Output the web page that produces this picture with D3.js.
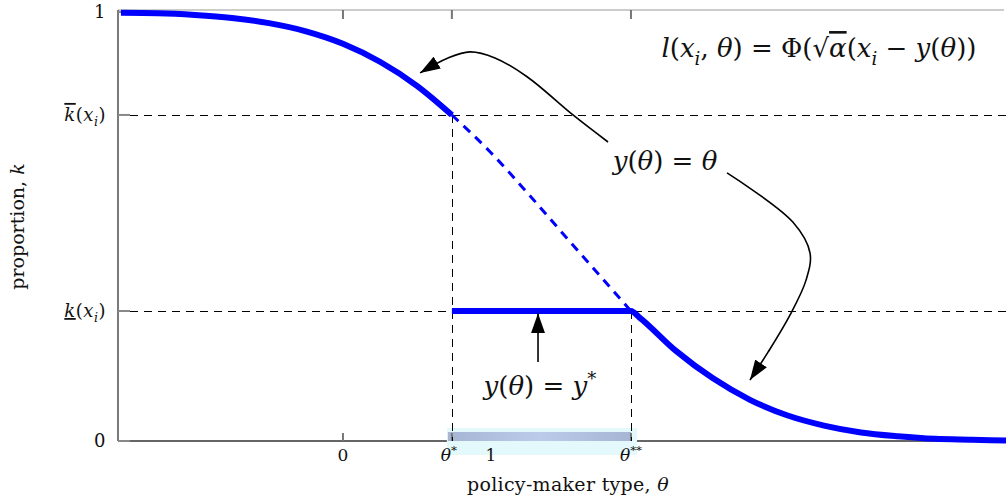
<!DOCTYPE html>
<html>
<head>
<meta charset="utf-8">
<script src="https://cdn.jsdelivr.net/npm/d3@7"></script>
<style>
    body { margin: 0; background: #fff; }
    text { font-family: "DejaVu Serif", "Liberation Serif", serif; fill: #111; }
</style>
</head>
<body>
<div id="chart"></div>
<script>
// thresholds
var thetaStar = 0.736,
    thetaStar2 = 1.946,
    kHigh = 0.760,
    kLow = 0.303;

// l(x_i, theta) with y(theta) = theta
var curveTheta = [-1.5, -1.25, -1.0, -0.75, -0.5, -0.25, 0, 0.25, 0.5, 0.736, 1.0, 1.25, 1.5, 1.75, 1.946,
    2.0, 2.25, 2.5, 2.75, 3.0, 3.25, 3.5, 3.75, 4.0, 4.25, 4.5];
var curveK = [0.998, 0.997, 0.993, 0.986, 0.974, 0.955, 0.926, 0.884, 0.828, 0.760, 0.672, 0.577, 0.478, 0.380, 0.303,
    0.289, 0.210, 0.146, 0.096, 0.060, 0.036, 0.020, 0.011, 0.005, 0.003, 0.001];

// x ticks
var xTickValues = [0, thetaStar, 1, thetaStar2];
var xTickLabels = [
    [{t: "0"}],
    [{t: "θ", i: true}, {t: "*", sup: true}],
    [{t: "1"}],
    [{t: "θ", i: true}, {t: "**", sup: true}]
];
var xTopTicks = [0, thetaStar, thetaStar2];

// y ticks
var yTickValues = [0, kLow, kHigh, 1];
var yTickLabels = [
    [{t: "0"}],
    [{t: "k", i: true, deco: "underline"}, {t: "("}, {t: "x", i: true}, {t: "i", i: true, sub: true}, {t: ")"}],
    [{t: "k", i: true, deco: "overline"}, {t: "("}, {t: "x", i: true}, {t: "i", i: true, sub: true}, {t: ")"}],
    [{t: "1"}]
];

// annotation arrows (theta, k)
var arrowTop = [[1.791, 0.697], [1.554, 0.760], [1.244, 0.849], [1.027, 0.893], [0.858, 0.907], [0.710, 0.893], [0.521, 0.858]];
var arrowBottom = [[2.595, 0.625], [3.041, 0.510], [3.156, 0.438], [3.129, 0.375], [3.021, 0.294], [2.872, 0.207], [2.750, 0.142]];
var arrowUp = [[1.318, 0.184], [1.318, 0.298]];

var W = 1006, H = 499;
var margin = {top: 12, right: 0, bottom: 58, left: 118};

var svg = d3.select("#chart").append("svg")
    .attr("width", W)
    .attr("height", H);

var x = d3.scaleLinear().domain([-1.52, 4.48]).range([margin.left, W]);
var y = d3.scaleLinear().domain([0, 1]).range([H - margin.bottom, margin.top]);

// snap 1px lines onto the pixel grid
function crisp(v) { return Math.round(v) + 0.5; }

// little math typesetter: italic, sub/superscripts, over/underline
function mathText(sel, parts, size) {
    var back = 0;
    parts.forEach(function(p) {
        var ts = sel.append("tspan").text(p.t);
        var dy = back;
        back = 0;
        if (p.i) ts.style("font-style", "italic");
        if (p.deco) ts.style("text-decoration", p.deco);
        if (p.sub) {
            dy += size * 0.3;
            back = -size * 0.3;
            ts.style("font-size", (size * 0.7) + "px");
        }
        if (p.sup) {
            dy -= size * 0.4;
            back = size * 0.4;
            ts.style("font-size", (size * 0.7) + "px");
        }
        if (dy) ts.attr("dy", dy);
    });
    return sel;
}

var defs = svg.append("defs");
defs.append("marker")
    .attr("id", "head")
    .attr("viewBox", "0 0 20 14")
    .attr("refX", 20)
    .attr("refY", 7)
    .attr("markerWidth", 20)
    .attr("markerHeight", 14)
    .attr("markerUnits", "userSpaceOnUse")
    .attr("orient", "auto")
    .append("path")
    .attr("d", "M0,0 L20,7 L0,14 Z")
    .attr("fill", "#000");

var grad = defs.append("linearGradient").attr("id", "band");
grad.append("stop").attr("offset", "0%").attr("stop-color", "#a6b5d4");
grad.append("stop").attr("offset", "50%").attr("stop-color", "#bccbea");
grad.append("stop").attr("offset", "100%").attr("stop-color", "#a6b5d4");

// frame
svg.append("line")
    .attr("x1", margin.left).attr("x2", W - 2)
    .attr("y1", y(1) - 2).attr("y2", y(1) - 2)
    .attr("stroke", "#999").attr("stroke-width", 1.2);
svg.append("line")
    .attr("x1", margin.left).attr("x2", margin.left)
    .attr("y1", y(1) - 2).attr("y2", y(0))
    .attr("stroke", "#333").attr("stroke-width", 1.3);
svg.append("line")
    .attr("x1", margin.left).attr("x2", W)
    .attr("y1", y(0)).attr("y2", y(0))
    .attr("stroke", "#333").attr("stroke-width", 1.3);

// shaded interval on the axis
svg.append("rect")
    .attr("x", x(thetaStar) - 5).attr("width", x(thetaStar2) - x(thetaStar) + 11)
    .attr("y", y(0) - 13).attr("height", 27)
    .attr("fill", "#e4f9fb");
svg.append("rect")
    .attr("x", x(thetaStar) - 4).attr("width", x(thetaStar2) - x(thetaStar) + 4)
    .attr("y", y(0) - 9).attr("height", 9)
    .attr("fill", "url(#band)");

// ticks
svg.selectAll(".xtick-b").data(xTopTicks).enter().append("line")
    .attr("x1", d => x(d)).attr("x2", d => x(d))
    .attr("y1", y(0)).attr("y2", y(0) - 8)
    .attr("stroke", "#777").attr("stroke-width", 2);
svg.selectAll(".xtick-t").data(xTopTicks).enter().append("line")
    .attr("x1", d => x(d)).attr("x2", d => x(d))
    .attr("y1", y(1) - 2).attr("y2", y(1) + 7)
    .attr("stroke", "#777").attr("stroke-width", 2);
svg.selectAll(".ytick").data(yTickValues).enter().append("line")
    .attr("x1", margin.left).attr("x2", margin.left + 12)
    .attr("y1", d => y(d)).attr("y2", d => y(d))
    .attr("stroke", "#888").attr("stroke-width", 2);

// dashed guides
var guide = "#000";
svg.append("line")
    .attr("x1", margin.left + 12).attr("x2", W)
    .attr("y1", crisp(y(kHigh))).attr("y2", crisp(y(kHigh)))
    .attr("stroke", guide).attr("stroke-dasharray", "8,6").attr("stroke-width", 1);
svg.append("line")
    .attr("x1", margin.left + 12).attr("x2", W)
    .attr("y1", crisp(y(kLow))).attr("y2", crisp(y(kLow)))
    .attr("stroke", guide).attr("stroke-dasharray", "8,6").attr("stroke-width", 1);
svg.append("line")
    .attr("x1", crisp(x(thetaStar))).attr("x2", crisp(x(thetaStar)))
    .attr("y1", y(kHigh)).attr("y2", y(0))
    .attr("stroke", guide).attr("stroke-dasharray", "8,6").attr("stroke-width", 1);
svg.append("line")
    .attr("x1", crisp(x(thetaStar2))).attr("x2", crisp(x(thetaStar2)))
    .attr("y1", y(kLow)).attr("y2", y(0))
    .attr("stroke", guide).attr("stroke-dasharray", "8,6").attr("stroke-width", 1);

// curve pieces
var pts = curveTheta.map((t, i) => [t, curveK[i]]);
var upper = pts.filter(d => d[0] <= thetaStar);
var middle = pts.filter(d => d[0] >= thetaStar && d[0] <= thetaStar2);
var lower = pts.filter(d => d[0] >= thetaStar2);

var line = d3.line()
    .x(d => x(d[0]))
    .y(d => y(d[1]))
    .curve(d3.curveMonotoneX);

svg.append("path").attr("d", line(middle))
    .attr("fill", "none").attr("stroke", "#0000ff")
    .attr("stroke-width", 3).attr("stroke-dasharray", "9,7");
svg.append("path").attr("d", line(upper))
    .attr("fill", "none").attr("stroke", "#0000ff").attr("stroke-width", 6);
svg.append("path").attr("d", line([[thetaStar, kLow]].concat(lower)))
    .attr("fill", "none").attr("stroke", "#0000ff").attr("stroke-width", 6)
    .attr("stroke-linejoin", "round");

// arrows
var arrowLine = d3.line().x(d => x(d[0])).y(d => y(d[1])).curve(d3.curveCatmullRom);
[arrowTop, arrowBottom, arrowUp].forEach(function(a) {
    svg.append("path").attr("d", arrowLine(a))
        .attr("fill", "none").attr("stroke", "#000").attr("stroke-width", 1.6)
        .attr("marker-end", "url(#head)");
});

// tick labels
svg.selectAll(".ylab").data(yTickValues).enter().append("text")
    .attr("x", 106)
    .attr("y", d => y(d) + 6)
    .attr("text-anchor", "end")
    .style("font-size", "18px")
    .style("letter-spacing", "0.5px")
    .each(function(d, i) { mathText(d3.select(this), yTickLabels[i], 18); });

svg.selectAll(".xlab").data(xTickValues).enter().append("text")
    .attr("x", (d, i) => x(d) + (i == 1 ? -3 : 0))
    .attr("y", y(0) + 20)
    .attr("text-anchor", "middle")
    .style("font-size", "17px")
    .each(function(d, i) { mathText(d3.select(this), xTickLabels[i], 17); });

// axis titles
svg.append("text")
    .attr("x", (margin.left + W) / 2 + 6)
    .attr("y", 491)
    .attr("text-anchor", "middle")
    .style("font-size", "19px")
    .style("letter-spacing", "0.3px")
    .call(mathText, [{t: "policy-maker type, "}, {t: "θ", i: true}], 19);

svg.append("text")
    .attr("transform", "translate(24," + y(0.5) + ")rotate(-90)")
    .attr("text-anchor", "middle")
    .style("font-size", "19px")
    .call(mathText, [{t: "proportion, "}, {t: "k", i: true}], 19);

// annotations
var annSize = 26;
svg.append("text")
    .attr("x", x(3.216)).attr("y", y(0.895))
    .attr("text-anchor", "middle")
    .style("font-size", annSize + "px")
    .call(mathText, [{t: "l", i: true}, {t: "("}, {t: "x", i: true}, {t: "i", i: true, sub: true},
        {t: ", "}, {t: "θ", i: true}, {t: ") = Φ(√"}, {t: "α", i: true, deco: "overline"}, {t: "("},
        {t: "x", i: true}, {t: "i", i: true, sub: true}, {t: " − "}, {t: "y", i: true}, {t: "("},
        {t: "θ", i: true}, {t: "))"}], annSize);

svg.append("text")
    .attr("x", x(2.176)).attr("y", y(0.632))
    .attr("text-anchor", "middle")
    .style("font-size", annSize + "px")
    .call(mathText, [{t: "y", i: true}, {t: "("}, {t: "θ", i: true}, {t: ") = "}, {t: "θ", i: true}], annSize);

svg.append("text")
    .attr("x", x(1.331)).attr("y", y(0.107))
    .attr("text-anchor", "middle")
    .style("font-size", annSize + "px")
    .call(mathText, [{t: "y", i: true}, {t: "("}, {t: "θ", i: true}, {t: ") = "}, {t: "y", i: true},
        {t: "*", sup: true}], annSize);
</script>
</body>
</html>
